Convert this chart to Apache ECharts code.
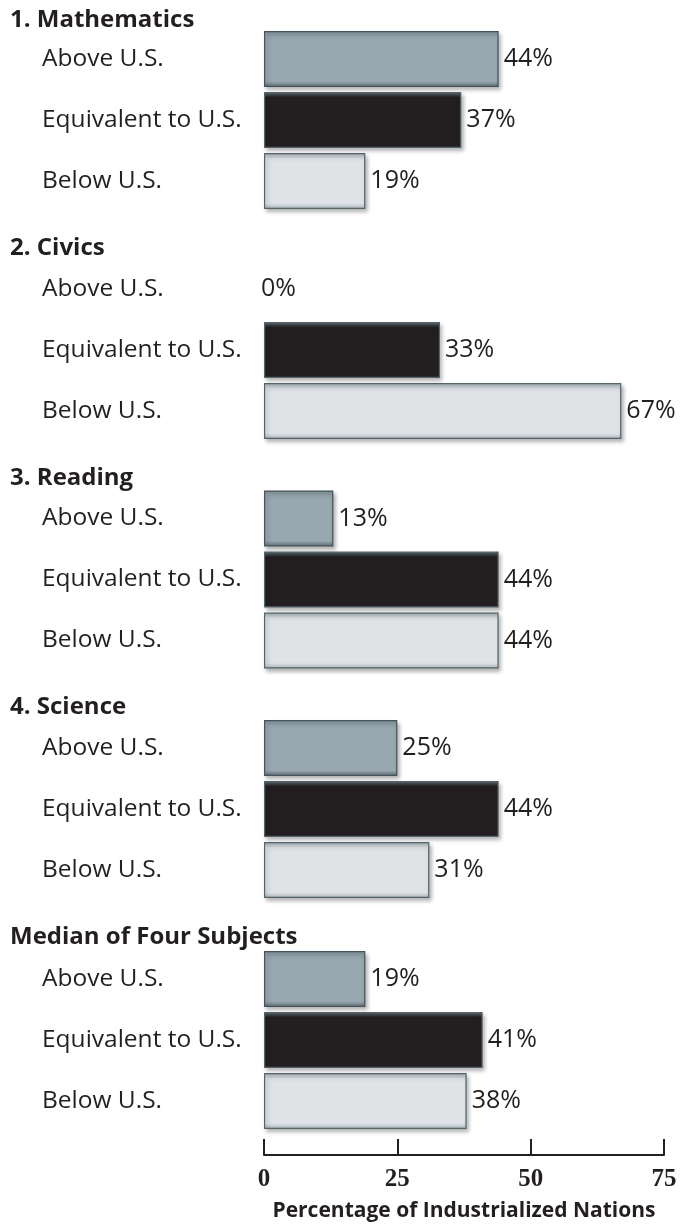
<!DOCTYPE html>
<html>
<head>
<meta charset="utf-8">
<script src="https://cdn.jsdelivr.net/npm/echarts@6/dist/echarts.min.js"></script>
<style>
  html, body { margin: 0; padding: 0; background: #fff; }
  #chart { width: 692px; height: 1226px; }
</style>
</head>
<body>
<div id="chart"></div>
<script>
// data
const subjects = ['1. Mathematics', '2. Civics', '3. Reading', '4. Science', 'Median of Four Subjects'];
const categories = ['Above U.S.', 'Equivalent to U.S.', 'Below U.S.'];
const mathematics = [44, 37, 19];
const civics = [0, 33, 67];
const reading = [13, 44, 44];
const science = [25, 44, 31];
const median = [19, 41, 38];
const xTicks = [0, 25, 50, 75];
const axisTitle = 'Percentage of Industrialized Nations';

const groups = [mathematics, civics, reading, science, median];

// layout
const gridTops = [28.5, 258.5, 488, 717.5, 948.5];
const titleY = [20, 248, 478, 707, 937];
const SANS = '"Open Sans", Lato, sans-serif';

// bevel look: top edge, body, bottom edge
const barStyles = [
  { top: '#7f8f97', body: '#98a7b0', bottom: '#5d6b72', border: '#46535a' },
  { top: '#5f6f76', body: '#231f20', bottom: '#231f20', border: '#55646a' },
  { top: '#9aa8ae', body: '#dfe3e6', bottom: '#aab4ba', border: '#56646a' }
];

function bevel(s) {
  return new echarts.graphic.LinearGradient(0, 0, 0, 1, [
    { offset: 0, color: s.top },
    { offset: 0.1, color: s.body },
    { offset: 0.9, color: s.body },
    { offset: 1, color: s.bottom }
  ]);
}

const chart = echarts.init(document.getElementById('chart'));

const grid = [], xAxis = [], yAxis = [], series = [], graphic = [];

groups.forEach((values, g) => {
  const last = g === groups.length - 1;
  grid.push({ left: 264, width: 400, top: gridTops[g], height: 183 });
  xAxis.push({
    gridIndex: g,
    type: 'value',
    min: 0,
    max: 75,
    interval: 25,
    show: last,
    offset: last ? 23.5 : 0,
    splitLine: { show: false },
    axisLine: { show: true, lineStyle: { color: '#231f20', width: 2 } },
    axisTick: { show: true, inside: true, length: 16, lineStyle: { color: '#231f20', width: 2 } },
    axisLabel: {
      margin: 12,
      fontFamily: '"Liberation Serif", serif',
      fontWeight: 'bold',
      fontSize: 25,
      color: '#231f20',
      formatter: (v) => xTicks.includes(v) ? String(v) : ''
    },
    name: last ? axisTitle : '',
    nameLocation: 'middle',
    nameGap: 46,
    nameTextStyle: { fontFamily: SANS, fontWeight: 'bold', fontSize: 21, color: '#231f20' }
  });
  yAxis.push({
    gridIndex: g,
    type: 'category',
    inverse: true,
    data: categories,
    axisLine: { show: false },
    axisTick: { show: false },
    axisLabel: {
      align: 'left',
      margin: 222,
      fontFamily: SANS,
      fontSize: 24.5,
      color: '#231f20'
    }
  });
  series.push({
    type: 'bar',
    xAxisIndex: g,
    yAxisIndex: g,
    barWidth: 56,
    silent: true,
    data: values.map((v, i) => {
      const s = barStyles[i];
      const item = {
        value: v,
        itemStyle: {
          color: bevel(s),
          borderColor: s.border,
          borderWidth: 1.2,
          shadowColor: 'rgba(0,0,0,0.3)',
          shadowBlur: 4,
          shadowOffsetX: 2,
          shadowOffsetY: 3
        }
      };
      if (v === 0) {
        item.itemStyle = { color: 'transparent', borderWidth: 0 };
        item.label = { offset: [-8, 0] };
      }
      return item;
    }),
    label: {
      show: true,
      position: 'right',
      distance: 5,
      formatter: '{c}%',
      fontFamily: SANS,
      fontSize: 25,
      color: '#231f20'
    }
  });
  graphic.push({
    type: 'text',
    x: 10,
    y: titleY[g],
    style: {
      text: subjects[g],
      font: 'bold 24px ' + SANS,
      fill: '#231f20',
      verticalAlign: 'middle'
    }
  });
});

chart.setOption({
  animation: false,
  grid: grid,
  xAxis: xAxis,
  yAxis: yAxis,
  series: series,
  graphic: graphic
});
</script>
</body>
</html>
